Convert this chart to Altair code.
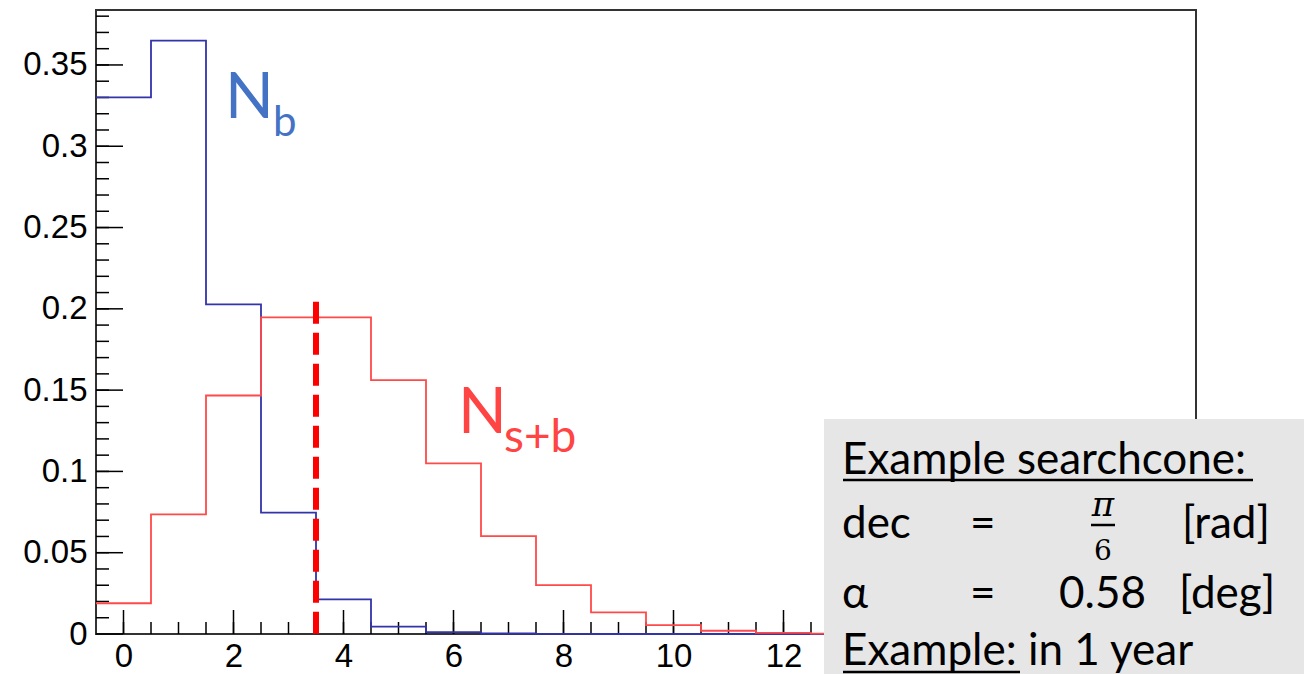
import altair as alt
import pandas as pd

# ---- data ----
bin_centers = list(range(20))
n_b = [0.330, 0.365, 0.2028, 0.0746, 0.0213, 0.0045, 0.0012, 0.0003, 0.0001, 0.0,
       0.0, 0.0, 0.0, 0.0, 0.0, 0.0, 0.0, 0.0, 0.0, 0.0]
n_sb = [0.0189, 0.0736, 0.1467, 0.1948, 0.1948, 0.1561, 0.1049, 0.0602, 0.0301, 0.0133,
        0.0055, 0.0020, 0.0007, 0.0002, 0.0001, 0.0, 0.0, 0.0, 0.0, 0.0]
cut_x = 3.5
cut_top = 0.2043
x_tick_labels = [0, 2, 4, 6, 8, 10, 12]
y_tick_labels = [0, 0.05, 0.1, 0.15, 0.2, 0.25, 0.3, 0.35]
x_domain = [-0.5, 19.5]
y_domain = [0, 0.3838]

W, H = 1100, 624

xs = alt.Scale(domain=x_domain, nice=False, zero=False)
ys = alt.Scale(domain=y_domain, nice=False, zero=False)

xa = alt.Axis(values=x_tick_labels, title=None, ticks=False, domain=False, grid=False,
              labelFont="Liberation Sans", labelFontSize=33, labelColor="black",
              labelPadding=6, labelFlush=False)
ya = alt.Axis(values=y_tick_labels, title=None, ticks=False, domain=False, grid=False,
              format="~g", labelFont="Liberation Sans", labelFontSize=33, labelColor="black",
              labelPadding=9, labelFlush=False)

# histogram step vertices: low edges + final edge
edges = [c - 0.5 for c in bin_centers] + [bin_centers[-1] + 0.5]
hist_df = pd.DataFrame({
    "edge": edges,
    "nb": n_b + [n_b[-1]],
    "nsb": n_sb + [n_sb[-1]],
})

frame = alt.Chart(alt.Data(values=[{}])).mark_rect(
    fill="white", stroke="#333333", strokeWidth=2
).encode(x=alt.value(0), x2=alt.value(W), y=alt.value(0), y2=alt.value(H))

y_major = [0.05 * i for i in range(8)]
y_minor = [0.01 * i for i in range(1, 39)]
x_major = [2 * i for i in range(10)]
x_minor = [0.5 * i for i in range(0, 40)]


def yticks(vals, length):
    return alt.Chart(pd.DataFrame({"v": vals})).mark_rule(color="black", strokeWidth=1.5).encode(
        y=alt.Y("v:Q", scale=ys, axis=ya), x=alt.value(0), x2=alt.value(length))


def xticks(vals, length):
    return alt.Chart(pd.DataFrame({"v": vals})).mark_rule(color="black", strokeWidth=1.5).encode(
        x=alt.X("v:Q", scale=xs, axis=xa), y=alt.value(H), y2=alt.value(H - length))


blue_line = alt.Chart(hist_df).mark_line(
    interpolate="step-after", color="#3333aa", strokeWidth=1.8
).encode(x=alt.X("edge:Q", scale=xs, axis=xa), y=alt.Y("nb:Q", scale=ys, axis=ya))

red_line = alt.Chart(hist_df).mark_line(
    interpolate="step-after", color="#ff4a4a", strokeWidth=1.8
).encode(x=alt.X("edge:Q", scale=xs, axis=xa), y=alt.Y("nsb:Q", scale=ys, axis=ya))

cut = alt.Chart(pd.DataFrame({"x": [cut_x], "y": [cut_top], "y2": [0.0]})).mark_rule(
    color="#ff0000", strokeWidth=6, strokeDash=[22, 9], strokeCap="butt"
).encode(x=alt.X("x:Q", scale=xs, axis=xa), y=alt.Y("y:Q", scale=ys, axis=ya), y2="y2:Q")


def txt(text, x, y, size, color="black", font="Lato", align="left", style="normal"):
    return alt.Chart(alt.Data(values=[{}])).mark_text(
        text=text, fontSize=size, color=color, font=font, align=align,
        baseline="alphabetic", fontStyle=style
    ).encode(x=alt.value(x), y=alt.value(y))


def hrule(x1, x2, y, width=2.5, color="black"):
    return alt.Chart(alt.Data(values=[{}])).mark_rule(color=color, strokeWidth=width).encode(
        x=alt.value(x1), x2=alt.value(x2), y=alt.value(y))


BLUE_T = "#4472C4"
RED_T = "#FF4444"
labels = [
    txt("N", 129, 108, 64, BLUE_T),
    txt("b", 177, 126, 42, BLUE_T),
    txt("N", 362, 423, 64, RED_T),
    txt("s+b", 408, 442, 46, RED_T),
]

box = alt.Chart(alt.Data(values=[{}])).mark_rect(fill="#e6e6e6").encode(
    x=alt.value(728), x2=alt.value(1208), y=alt.value(409), y2=alt.value(664))

FS = 44
box_text = [
    txt("Example searchcone:", 746, 464, FS),
    hrule(747, 1157, 470),
    txt("dec", 746, 528, FS),
    txt("=", 874, 528, FS),
    txt("π", 1007, 506, 34, font="DejaVu Serif", align="center", style="italic"),
    hrule(995, 1019, 515, width=2.5),
    txt("6", 1007, 550, 28, font="DejaVu Serif", align="center"),
    txt("[rad]", 1086, 528, FS),
    txt("α", 746, 598, FS),
    txt("=", 874, 598, FS),
    txt("0.58", 963, 598, FS),
    txt("[deg]", 1083, 598, FS),
    txt("Example: in 1 year", 746, 655, FS),
    hrule(747, 924, 662),
]

chart = alt.layer(
    frame,
    yticks(y_minor, 13), yticks(y_major, 27),
    xticks(x_minor, 12), xticks(x_major, 24),
    blue_line, red_line, cut,
    *labels,
    box, *box_text,
).properties(
    width=W, height=H,
    autosize=alt.AutoSizeParams(type="none"),
    padding={"left": 96, "top": 10, "right": 108, "bottom": 40},
).configure_view(stroke=None)

chart.save("out.html", embed_options={"renderer": "svg", "actions": False})
